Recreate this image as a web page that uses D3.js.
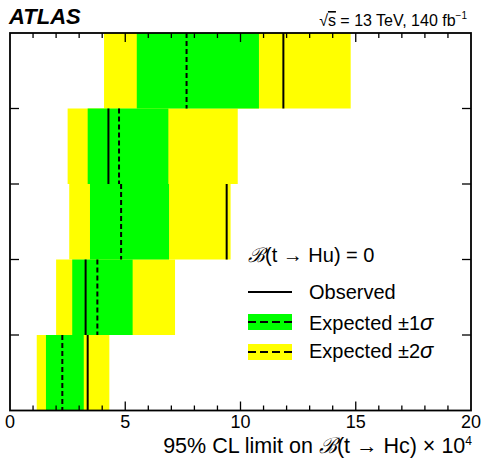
<!DOCTYPE html>
<html><head><meta charset="utf-8">
<script src="https://cdn.jsdelivr.net/npm/d3@7"></script>
<style>body{margin:0;background:#fff}svg{display:block}text{font-family:"Liberation Sans",Arial,sans-serif}</style>
</head><body>
<svg id="c" width="485" height="458"></svg>
<script>
const categories = ["tqH, H\u2192bb", "tqH, H\u2192\u03b3\u03b3", "tqH, multilepton", "tqH, H\u2192\u03c4\u03c4", "Combined"];
const observed   = [11.86, 4.27, 9.40, 3.28, 3.37];
const expected   = [7.66, 4.73, 4.82, 3.79, 2.27];
const minus1     = [5.50, 3.37, 3.47, 2.70, 1.56];
const plus1      = [10.80, 6.87, 6.90, 5.32, 3.20];
const minus2     = [4.08, 2.50, 2.57, 2.00, 1.16];
const plus2      = [14.78, 9.88, 9.57, 7.16, 4.31];
const xTicks     = [0, 5, 10, 15, 20];

const svg = d3.select("#c");
const L = 10, R = 471, T = 33, B = 410.5;
const x = d3.scaleLinear().domain([0, 20]).range([L, R]);
const y = d3.scaleBand().domain(categories).range([T, B]).padding(0);
const rows = categories.map((c, i) => ({c, obs: observed[i], exp: expected[i], m1: minus1[i], p1: plus1[i], m2: minus2[i], p2: plus2[i]}));

const g = svg.append("g");
g.selectAll("rect.y2").data(rows).join("rect").attr("class", "y2")
  .attr("x", d => x(d.m2)).attr("width", d => x(d.p2) - x(d.m2))
  .attr("y", d => y(d.c)).attr("height", y.bandwidth()).attr("fill", "#ffff00");
g.selectAll("rect.g1").data(rows).join("rect").attr("class", "g1")
  .attr("x", d => x(d.m1)).attr("width", d => x(d.p1) - x(d.m1))
  .attr("y", d => y(d.c)).attr("height", y.bandwidth()).attr("fill", "#00ff00");
g.selectAll("line.exp").data(rows).join("line").attr("class", "exp")
  .attr("x1", d => x(d.exp)).attr("x2", d => x(d.exp))
  .attr("y1", d => y(d.c)).attr("y2", d => y(d.c) + y.bandwidth())
  .attr("stroke", "#000").attr("stroke-width", 2).attr("stroke-dasharray", "5,3");
g.selectAll("line.obs").data(rows).join("line").attr("class", "obs")
  .attr("x1", d => x(d.obs)).attr("x2", d => x(d.obs))
  .attr("y1", d => y(d.c)).attr("y2", d => y(d.c) + y.bandwidth())
  .attr("stroke", "#000").attr("stroke-width", 2);

// axes
const minor = d3.range(0, 21, 1);
const ax = svg.append("g").attr("stroke", "#000").attr("stroke-width", 1.3);
minor.forEach(v => {
  const len = v % 5 === 0 ? 9 : 5;
  if (v === 0 || v === 20) return;
  ax.append("line").attr("x1", x(v)).attr("x2", x(v)).attr("y1", B).attr("y2", B - len);
  ax.append("line").attr("x1", x(v)).attr("x2", x(v)).attr("y1", T).attr("y2", T + len);
});
categories.slice(1).forEach(c => {
  ax.append("line").attr("x1", L).attr("x2", L + 9).attr("y1", y(c)).attr("y2", y(c));
  ax.append("line").attr("x1", R).attr("x2", R - 9).attr("y1", y(c)).attr("y2", y(c));
});
svg.append("rect").attr("x", L).attr("y", T).attr("width", R - L).attr("height", B - T)
  .attr("fill", "none").attr("stroke", "#000").attr("stroke-width", 1.8);

svg.append("g").selectAll("text").data(xTicks).join("text")
  .attr("x", d => x(d)).attr("y", 428).attr("text-anchor", "middle")
  .attr("font-size", 18).text(d => d);

const xt = svg.append("text").attr("x", R + 1).attr("y", 453).attr("text-anchor", "end").attr("font-size", 21.5);
xt.append("tspan").text("95% CL limit on ");
xt.append("tspan").attr("font-family", "DejaVu Serif").attr("font-style", "italic").text("\u212C");
xt.append("tspan").text("(t \u2192 Hc) \u00d7 10");
xt.append("tspan").attr("font-size", 12).attr("dy", -8).text("4");

// header
svg.append("text").attr("x", 9).attr("y", 24).attr("font-size", 22).attr("font-weight", "bold").attr("font-style", "italic").text("ATLAS");
const en = svg.append("text").attr("x", 467).attr("y", 26).attr("text-anchor", "end").attr("font-size", 16);
en.append("tspan").text("\u221A");
en.append("tspan").attr("style", "text-decoration:overline").text("s");
en.append("tspan").text(" = 13 TeV, 140 fb");
en.append("tspan").attr("font-size", 10).attr("dy", -7).text("\u22121");

// legend
const lg = svg.append("g");
const h = lg.append("text").attr("x", 248).attr("y", 262).attr("font-size", 20);
h.append("tspan").attr("font-family", "DejaVu Serif").attr("font-style", "italic").text("\u212C");
h.append("tspan").text("(t \u2192 Hu) = 0");
lg.append("line").attr("x1", 248).attr("x2", 292).attr("y1", 292).attr("y2", 292).attr("stroke", "#000").attr("stroke-width", 2);
lg.append("rect").attr("x", 248).attr("y", 314).attr("width", 44).attr("height", 16).attr("fill", "#00ff00");
lg.append("line").attr("x1", 248).attr("x2", 292).attr("y1", 322).attr("y2", 322).attr("stroke", "#000").attr("stroke-width", 2).attr("stroke-dasharray", "8,4");
lg.append("rect").attr("x", 248).attr("y", 344).attr("width", 44).attr("height", 16).attr("fill", "#ffff00");
lg.append("line").attr("x1", 248).attr("x2", 292).attr("y1", 352).attr("y2", 352).attr("stroke", "#000").attr("stroke-width", 2).attr("stroke-dasharray", "8,4");
lg.append("text").attr("x", 309).attr("y", 299).attr("font-size", 20).text("Observed");
const e1 = lg.append("text").attr("x", 309).attr("y", 330).attr("font-size", 20);
e1.append("tspan").text("Expected \u00b11");
e1.append("tspan").attr("font-style", "italic").attr("font-size", 22).text("\u03c3");
const e2 = lg.append("text").attr("x", 309).attr("y", 358).attr("font-size", 20);
e2.append("tspan").text("Expected \u00b12");
e2.append("tspan").attr("font-style", "italic").attr("font-size", 22).text("\u03c3");
</script>
</body></html>
